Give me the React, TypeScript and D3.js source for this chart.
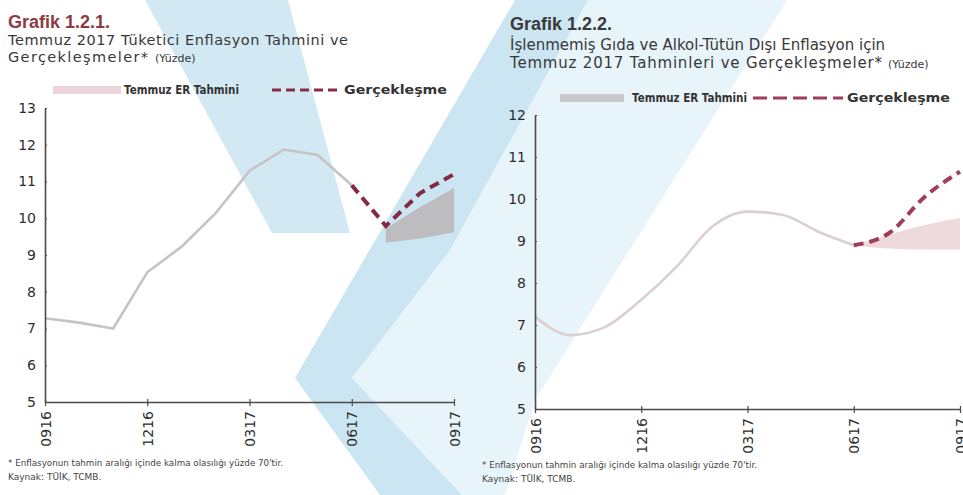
import React, { useEffect, useRef } from 'react';
import * as d3 from 'd3';

// ---------- shared ----------
const months = ['0916', '1016', '1116', '1216', '0117', '0217', '0317', '0417', '0517', '0617', '0717', '0817', '0917'];
const tickMonths = ['0916', '1216', '0317', '0617', '0917'];

// ---------- Grafik 1.2.1 ----------
const cpiHistMonths = ['0916', '1016', '1116', '1216', '0117', '0217', '0317', '0417', '0517', '0617'];
const cpiHistory = [7.28, 7.16, 7.0, 8.53, 9.22, 10.13, 11.29, 11.87, 11.72, 10.9];
const cpiActMonths = ['0617', '0717', '0817', '0917'];
const cpiActual = [10.9, 9.79, 10.68, 11.2];
const cpiBandMonths = ['0717', '0817', '0917'];
const cpiBandLow = [9.33, 9.45, 9.62];
const cpiBandHigh = [9.72, 10.3, 10.82];
const cpiYTicks = [5, 6, 7, 8, 9, 10, 11, 12, 13];

// ---------- Grafik 1.2.2 ----------
const coreHistMonths = ['0916', '1016', '1116', '1216', '0117', '0217', '0317', '0417', '0517', '0617'];
const coreHistory = [7.2, 6.76, 6.96, 7.6, 8.39, 9.34, 9.7, 9.62, 9.22, 8.9];
const coreActMonths = ['0617', '0717', '0817', '0917'];
const coreActual = [8.9, 9.19, 10.05, 10.65];
const coreBandMonths = ['0617', '0717', '0817', '0917'];
const coreBandLow = [8.9, 8.82, 8.8, 8.8];
const coreBandHigh = [8.9, 9.15, 9.38, 9.55];
const coreYTicks = [5, 6, 7, 8, 9, 10, 11, 12];

const FONT = "'DejaVu Sans', sans-serif";
const TITLE_FONT = "'Liberation Sans', Arial, sans-serif";

type ChartProps = {
  x0: number; x1: number; yTop: number; yBot: number;
  yMin: number; yMax: number; yTicks: number[];
  histM: string[]; hist: number[];
  actM: string[]; act: number[];
  bandM: string[]; bandLo: number[]; bandHi: number[];
  lineColor: string; dashColor: string; bandColor: string;
  curve: any;
};

function Chart(p: ChartProps) {
  const axRef = useRef<SVGGElement>(null);
  const x = d3.scalePoint<string>().domain(months).range([p.x0, p.x1]);
  const y = d3.scaleLinear().domain([p.yMin, p.yMax]).range([p.yBot, p.yTop]);

  useEffect(() => {
    const g = d3.select(axRef.current);
    g.selectAll('*').remove();
    const ya = g.append('g').attr('transform', `translate(${p.x0},0)`)
      .call(d3.axisLeft(y).tickValues(p.yTicks).tickSizeInner(4).tickSizeOuter(0).tickPadding(5).tickFormat(d3.format('d')));
    const xa = g.append('g').attr('transform', `translate(0,${p.yBot})`)
      .call(d3.axisBottom(x).tickValues(tickMonths).tickSizeInner(4).tickSizeOuter(0));
    [ya, xa].forEach(a => {
      a.select('.domain').attr('stroke', '#4a4a4a').attr('stroke-width', 1.6);
      a.selectAll('.tick line').attr('stroke', '#4a4a4a').attr('stroke-width', 1.2);
      a.selectAll('text').attr('fill', '#2e2e2e').style('font-family', FONT).style('font-size', '14px');
    });
    xa.selectAll('.tick line').attr('y1', -3);
    ya.selectAll('.tick line').attr('x2', 2);
    xa.selectAll('text')
      .attr('transform', 'rotate(-90)')
      .attr('text-anchor', 'end')
      .attr('x', -9)
      .attr('y', 0)
      .attr('dy', '0.36em');
  });

  const line = d3.line<number>().x((_, i) => x(p.histM[i]) as number).y(d => y(d)).curve(p.curve);
  const actLine = d3.line<number>().x((_, i) => x(p.actM[i]) as number).y(d => y(d)).curve(p.curve);
  const area = d3.area<number>()
    .x((_, i) => x(p.bandM[i]) as number)
    .y0((_, i) => y(p.bandLo[i]))
    .y1((_, i) => y(p.bandHi[i]))
    .curve(p.curve);

  return (
    <g>
      <path d={area(p.bandLo) || ''} fill={p.bandColor} />
      <path d={line(p.hist) || ''} fill="none" stroke={p.lineColor} strokeWidth={2.6} />
      <path d={actLine(p.act) || ''} fill="none" stroke={p.dashColor} strokeWidth={4} strokeDasharray="10,6" />
      <g ref={axRef} />
    </g>
  );
}

export default function App() {
  return (
    <svg width={963} height={495} style={{ position: 'absolute', left: 0, top: 0, background: '#fff' }} fontFamily={FONT}>
      {/* watermark */}
      <polygon points="145,0 288,0 350,233 272,233" fill="#d2e9f4" />
      <polygon points="588,0 787,0 535,400 505,495 462,495 352,378 450,250" fill="#e7f4fa" />
      <polygon points="515,0 588,0 450,250 352,378 462,495 380,495 295,378" fill="#cbe6f2" />

      {/* Left titles */}
      <text x={8} y={28} fontSize={18} fontWeight="bold" fill="#8c3b45" fontFamily={TITLE_FONT}>Grafik 1.2.1.</text>
      <text x={8} y={45} fontSize={14.5} fill="#383838" textLength={340} lengthAdjust="spacing">Temmuz 2017 Tüketici Enflasyon Tahmini ve</text>
      <text x={8} y={62} fontSize={14.5} fill="#383838" textLength={140} lengthAdjust="spacing">Gerçekleşmeler*</text>
      <text x={155} y={62} fontSize={11} fill="#383838">(Yüzde)</text>
      {/* Left legend */}
      <rect x={53} y={86} width={68} height={8} fill="#ead5d9" />
      <text x={124} y={94} fontSize={12} fontWeight="bold" fill="#333" textLength={115} lengthAdjust="spacingAndGlyphs">Temmuz ER Tahmini</text>
      <line x1={272} x2={339} y1={90} y2={90} stroke="#8b2c44" strokeWidth={3} strokeDasharray="9,5" />
      <text x={344} y={94} fontSize={12} fontWeight="bold" fill="#333" textLength={103} lengthAdjust="spacingAndGlyphs">Gerçekleşme</text>

      {/* Right titles */}
      <text x={510} y={30} fontSize={18} fontWeight="bold" fill="#3a3a3a" fontFamily={TITLE_FONT}>Grafik 1.2.2.</text>
      <text x={510} y={50} fontSize={15} fill="#383838">İşlenmemiş Gıda ve Alkol-Tütün Dışı Enflasyon için</text>
      <text x={510} y={68} fontSize={15} fill="#383838" textLength={372} lengthAdjust="spacing">Temmuz 2017 Tahminleri ve Gerçekleşmeler*</text>
      <text x={888} y={68} fontSize={11} fill="#383838">(Yüzde)</text>
      {/* Right legend */}
      <rect x={560} y={94} width={64} height={8} fill="#cbc8cc" />
      <text x={632} y={102} fontSize={12} fontWeight="bold" fill="#333" textLength={115} lengthAdjust="spacingAndGlyphs">Temmuz ER Tahmini</text>
      <line x1={753} x2={843} y1={98} y2={98} stroke="#a13d5c" strokeWidth={3} strokeDasharray="14,6" />
      <text x={847} y={102} fontSize={12} fontWeight="bold" fill="#333" textLength={103} lengthAdjust="spacingAndGlyphs">Gerçekleşme</text>

      <Chart x0={45} x1={454} yTop={108} yBot={402} yMin={5} yMax={13} yTicks={cpiYTicks}
        histM={cpiHistMonths} hist={cpiHistory} actM={cpiActMonths} act={cpiActual}
        bandM={cpiBandMonths} bandLo={cpiBandLow} bandHi={cpiBandHigh}
        lineColor="#c6c3c4" dashColor="#852a40" bandColor="#bdbcbf" curve={d3.curveLinear} />
      <Chart x0={535} x1={960} yTop={115} yBot={409} yMin={5} yMax={12} yTicks={coreYTicks}
        histM={coreHistMonths} hist={coreHistory} actM={coreActMonths} act={coreActual}
        bandM={coreBandMonths} bandLo={coreBandLow} bandHi={coreBandHigh}
        lineColor="#dccfd2" dashColor="#a13d5c" bandColor="#eed9dc" curve={d3.curveMonotoneX} />

      {/* Footnotes */}
      <text x={8} y={466} fontSize={9} fill="#444" textLength={275} lengthAdjust="spacingAndGlyphs">* Enflasyonun tahmin aralığı içinde kalma olasılığı yüzde 70'tir.</text>
      <text x={8} y={480} fontSize={9} fill="#444">Kaynak: TÜİK, TCMB.</text>
      <text x={482} y={468} fontSize={9} fill="#444" textLength={275} lengthAdjust="spacingAndGlyphs">* Enflasyonun tahmin aralığı içinde kalma olasılığı yüzde 70'tir.</text>
      <text x={482} y={482} fontSize={9} fill="#444">Kaynak: TÜİK, TCMB.</text>
    </svg>
  );
}
